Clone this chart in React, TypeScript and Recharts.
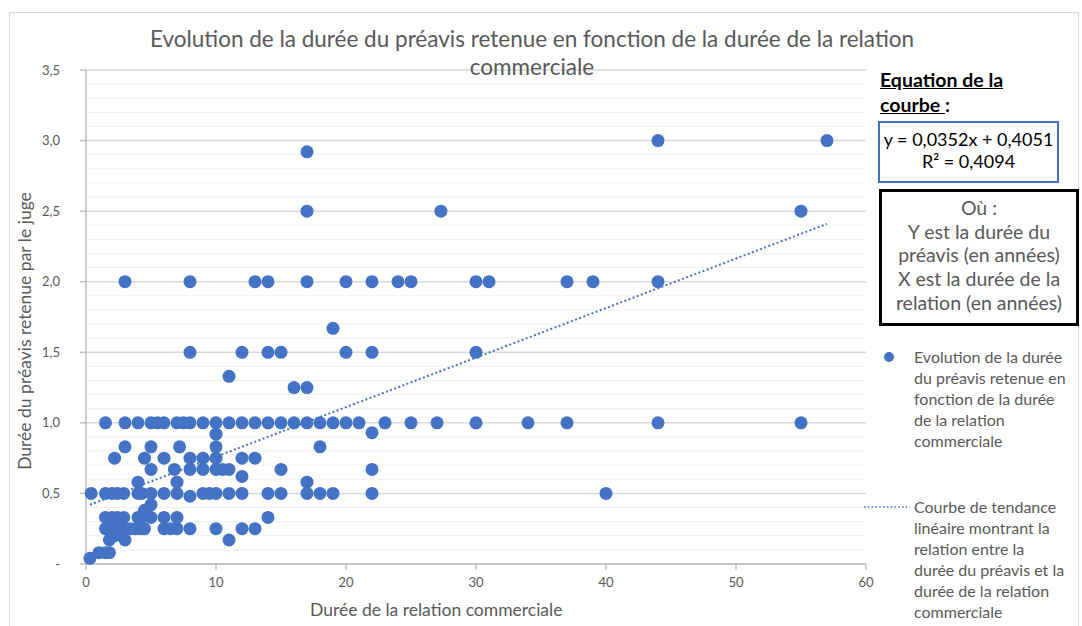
import React from 'react';
import { ScatterChart, Scatter, XAxis, YAxis, CartesianGrid, ReferenceLine } from 'recharts';

// points, grouped by y level
const rows: Array<[number, number[]]> = [
  [3.0, [44, 57]],
  [2.92, [17]],
  [2.5, [17, 27.3, 55]],
  [2.0, [3, 8, 13, 14, 17, 20, 22, 24, 25, 30, 31, 37, 39, 44]],
  [1.67, [19]],
  [1.5, [8, 12, 14, 15, 20, 22, 30]],
  [1.33, [11]],
  [1.25, [16, 17]],
  [1.0, [1.5, 3, 4, 5, 5.5, 6, 7, 7.5, 8, 9, 10, 11, 12, 13, 14, 15, 16, 17, 18, 19, 20, 21, 23, 25, 27, 30, 34, 37, 44, 55]],
  [0.92, [10]],
  [0.93, [22]],
  [0.83, [3, 5, 7.2, 10, 18]],
  [0.75, [2.2, 4.5, 6, 8, 9, 10, 12, 13]],
  [0.67, [5, 6.8, 8, 9, 10, 10.5, 11, 15, 22]],
  [0.62, [12]],
  [0.58, [4, 7, 17]],
  [0.5, [0.4, 1.5, 2, 2.4, 2.9, 4, 4.3, 5, 6, 7, 9, 9.5, 10, 11, 12, 14, 15, 17, 18, 19, 22, 40]],
  [0.48, [8]],
  [0.42, [5]],
  [0.38, [4.5]],
  [0.33, [1.5, 2, 2.4, 2.9, 4, 4.3, 5, 6, 7, 14]],
  [0.25, [1.5, 1.8, 2.2, 2.6, 3, 3.4, 3.8, 4.2, 4.5, 6, 6.5, 7, 8, 10, 12, 13]],
  [0.2, [2.2]],
  [0.17, [1.8, 3, 11]],
  [0.08, [1, 1.5, 1.8]],
  [0.04, [0.3]],
];

const points = rows.flatMap(([y, xs]) => xs.map((x) => ({ x, y })));

const trend = [
  { x: 0.3, y: 0.42 },
  { x: 57, y: 2.41 },
];

const xTicks = [0, 10, 20, 30, 40, 50, 60];
const yTicks = [0, 0.5, 1, 1.5, 2, 2.5, 3, 3.5];
const minorY = [0.1, 0.2, 0.3, 0.4, 0.6, 0.7, 0.8, 0.9, 1.1, 1.2, 1.3, 1.4, 1.6, 1.7, 1.8, 1.9, 2.1, 2.2, 2.3, 2.4, 2.6, 2.7, 2.8, 2.9, 3.1, 3.2, 3.3, 3.4];

const titleLines = ['Evolution de la durée du préavis retenue en fonction de la durée de la relation', 'commerciale'];
const defLines = ['Où :', 'Y est la durée du', 'préavis (en années)', 'X est la durée de la', 'relation (en années)'];
const legend1 = ['Evolution de la durée', 'du préavis retenue en', 'fonction de la durée', 'de la relation', 'commerciale'];
const legend2 = ['Courbe de tendance', 'linéaire montrant la', 'relation entre la', 'durée du préavis et la', 'durée de la relation', 'commerciale'];

const BLUE = '#4472C4';
const GREY = '#595959';
const FONT = 'Lato, "Open Sans", sans-serif';

const fmtY = (v: number) => (v === 0 ? '-' : v.toFixed(1).replace('.', ','));

const Dot = (props: any) => <circle cx={props.cx} cy={props.cy} r={6.5} fill={BLUE} />;

export default function App() {
  return (
    <div style={{ position: 'absolute', left: 0, top: 0, width: 1082, height: 626, background: '#fff', fontFamily: FONT, overflow: 'hidden' }}>
      <div style={{ position: 'absolute', left: 9, top: 12, width: 1068, height: 620, border: '1px solid #D9D9D9' }} />
      <ScatterChart width={1082} height={626} margin={{ top: 70, right: 216, bottom: 32, left: 26 }} style={{ position: 'absolute', left: 0, top: 0 }}>
        <CartesianGrid vertical={false} stroke="#D9D9D9" strokeWidth={1.5} />
        {minorY.map((v) => (
          <ReferenceLine key={v} y={v} stroke="#EFEFEF" strokeWidth={1} />
        ))}
        <XAxis
          type="number"
          dataKey="x"
          domain={[0, 60]}
          ticks={xTicks}
          stroke="#BFBFBF"
          strokeWidth={1.5}
          tickSize={6}
          tickMargin={8}
          tick={{ fill: GREY, fontSize: 13, fontFamily: FONT }}
          height={30}
        />
        <YAxis
          type="number"
          dataKey="y"
          domain={[0, 3.5]}
          ticks={yTicks}
          tickFormatter={fmtY}
          stroke="#BFBFBF"
          strokeWidth={1.5}
          tickSize={6}
          tickMargin={20}
          tick={{ fill: GREY, fontSize: 13, fontFamily: FONT }}
          width={60}
        />
        <Scatter data={points} fill={BLUE} shape={<Dot />} isAnimationActive={false} />
        <Scatter
          data={trend}
          fill={BLUE}
          line={{ stroke: BLUE, strokeWidth: 2, strokeDasharray: '2 2.4' }}
          shape={() => <g />}
          isAnimationActive={false}
        />
      </ScatterChart>

      {titleLines.map((t, i) => (
        <div key={t} style={{ position: 'absolute', left: 0, width: 1064, top: 25 + i * 28, textAlign: 'center', fontSize: 22.5, lineHeight: '28px', color: GREY, whiteSpace: 'nowrap' }}>
          {t}
        </div>
      ))}

      <div style={{ position: 'absolute', left: 10, top: 331, transform: 'translate(-50%, -50%) rotate(-90deg)', transformOrigin: 'center', fontSize: 17.5, color: GREY, whiteSpace: 'nowrap', marginLeft: 14 }}>
        Durée du préavis retenue par le juge
      </div>
      <div style={{ position: 'absolute', left: 310, top: 599, fontSize: 17.5, color: GREY, whiteSpace: 'nowrap' }}>
        Durée de la relation commerciale
      </div>

      <div style={{ position: 'absolute', left: 880, top: 67, fontSize: 19.5, fontWeight: 700, color: '#000', lineHeight: '25px' }}>
        <div style={{ textDecoration: 'underline' }}>Equation de la</div>
        <div>
          <span style={{ textDecoration: 'underline' }}>courbe </span>:
        </div>
      </div>
      <div style={{ position: 'absolute', left: 878, top: 121, width: 177, height: 53, border: `2px solid ${BLUE}`, textAlign: 'center', fontSize: 18, color: '#000', lineHeight: '22px', paddingTop: 5, boxSizing: 'content-box', whiteSpace: 'nowrap' }}>
        <div>y = 0,0352x + 0,4051</div>
        <div>R² = 0,4094</div>
      </div>
      <div style={{ position: 'absolute', left: 879, top: 189, width: 194, height: 127, border: '3px solid #000', textAlign: 'center', fontSize: 19.5, color: GREY, lineHeight: '23.7px', paddingTop: 4, boxSizing: 'content-box', whiteSpace: 'nowrap' }}>
        {defLines.map((t) => (
          <div key={t}>{t}</div>
        ))}
      </div>

      <svg style={{ position: 'absolute', left: 0, top: 0 }} width={1082} height={626}>
        <circle cx={889} cy={357} r={5} fill={BLUE} />
        <line x1={864} x2={910} y1={507} y2={507} stroke={BLUE} strokeWidth={1.6} strokeDasharray="1.6 2.2" />
      </svg>
      <div style={{ position: 'absolute', left: 914, top: 346, fontSize: 16, color: GREY, lineHeight: '21px', whiteSpace: 'nowrap' }}>
        {legend1.map((t) => (
          <div key={t}>{t}</div>
        ))}
      </div>
      <div style={{ position: 'absolute', left: 914, top: 496, fontSize: 16, color: GREY, lineHeight: '21px', whiteSpace: 'nowrap' }}>
        {legend2.map((t, i) => (
          <div key={t + i}>{t}</div>
        ))}
      </div>
    </div>
  );
}
